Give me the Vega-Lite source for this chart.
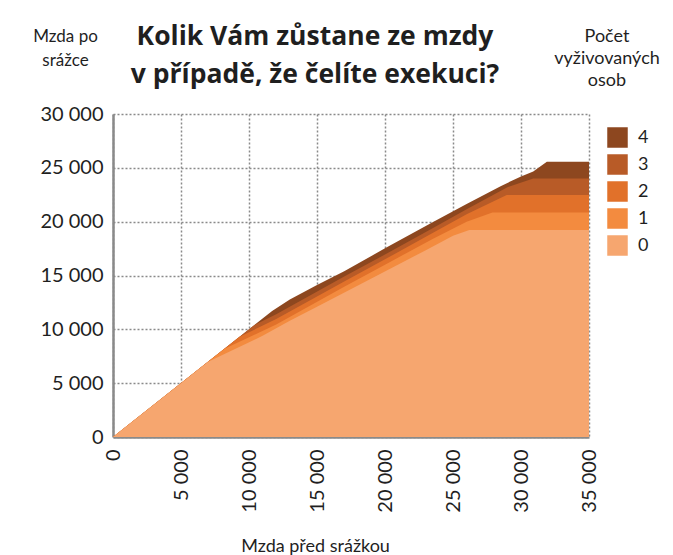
{
  "$schema": "https://vega.github.io/schema/vega-lite/v6.json",
  "autosize": {"type": "none"},
  "width": 476,
  "height": 323,
  "padding": {"left": 113, "top": 114, "right": 84, "bottom": 118},
  "background": "white",
  "title": {
    "text": ["Kolik Vám zůstane ze mzdy", "v případě, že čelíte exekuci?"],
    "anchor": "middle",
    "dx": -36,
    "fontSize": 26.5,
    "font": "Open Sans",
    "fontWeight": "bold",
    "color": "#1f1f1f",
    "lineHeight": 38,
    "offset": -61
  },
  "data": {
    "values": [
      {"k": "4", "x": 0, "y": 0}, {"k": "4", "x": 11700, "y": 11700}, {"k": "4", "x": 13000, "y": 12780}, {"k": "4", "x": 15000, "y": 14110}, {"k": "4", "x": 17000, "y": 15400}, {"k": "4", "x": 20000, "y": 17520}, {"k": "4", "x": 23500, "y": 19950}, {"k": "4", "x": 26000, "y": 21650}, {"k": "4", "x": 28500, "y": 23300}, {"k": "4", "x": 30000, "y": 24200}, {"k": "4", "x": 30900, "y": 24650}, {"k": "4", "x": 31900, "y": 25560}, {"k": "4", "x": 35000, "y": 25560},
      {"k": "3", "x": 0, "y": 0}, {"k": "3", "x": 10400, "y": 10400}, {"k": "3", "x": 12000, "y": 11400}, {"k": "3", "x": 17000, "y": 14900}, {"k": "3", "x": 20000, "y": 16950}, {"k": "3", "x": 23500, "y": 19400}, {"k": "3", "x": 26000, "y": 21150}, {"k": "3", "x": 29000, "y": 23200}, {"k": "3", "x": 30900, "y": 24020}, {"k": "3", "x": 35000, "y": 24020},
      {"k": "2", "x": 0, "y": 0}, {"k": "2", "x": 9300, "y": 9300}, {"k": "2", "x": 12000, "y": 10950}, {"k": "2", "x": 17000, "y": 14450}, {"k": "2", "x": 20000, "y": 16500}, {"k": "2", "x": 23500, "y": 18950}, {"k": "2", "x": 26000, "y": 20700}, {"k": "2", "x": 28950, "y": 22470}, {"k": "2", "x": 35000, "y": 22470},
      {"k": "1", "x": 0, "y": 0}, {"k": "1", "x": 8200, "y": 8200}, {"k": "1", "x": 12000, "y": 10450}, {"k": "1", "x": 17000, "y": 13950}, {"k": "1", "x": 20000, "y": 16000}, {"k": "1", "x": 23500, "y": 18400}, {"k": "1", "x": 26000, "y": 20000}, {"k": "1", "x": 27900, "y": 20860}, {"k": "1", "x": 35000, "y": 20860},
      {"k": "0", "x": 0, "y": 0}, {"k": "0", "x": 7000, "y": 7000}, {"k": "0", "x": 11000, "y": 9400}, {"k": "0", "x": 13000, "y": 10800}, {"k": "0", "x": 15000, "y": 12100}, {"k": "0", "x": 19000, "y": 14720}, {"k": "0", "x": 23000, "y": 17350}, {"k": "0", "x": 25000, "y": 18700}, {"k": "0", "x": 26200, "y": 19220}, {"k": "0", "x": 35000, "y": 19220}
    ]
  },
  "encoding": {
    "x": {
      "field": "x", "type": "quantitative",
      "scale": {"domain": [0, 35000], "nice": false, "zero": true},
      "axis": {
        "values": [0, 5000, 10000, 15000, 20000, 25000, 30000, 35000],
        "format": ",d",
        "labelAngle": -90,
        "labelFontSize": 20,
        "labelPadding": 12,
        "title": "Mzda před srážkou",
        "titleFontSize": 18,
        "titleFontWeight": "normal",
        "titleX": 202,
        "titleY": 114,
        "titleBaseline": "alphabetic",
        "titleAnchor": null
      }
    },
    "y": {
      "field": "y", "type": "quantitative", "stack": null,
      "scale": {"domain": [0, 30000], "nice": false},
      "axis": {
        "values": [0, 5000, 10000, 15000, 20000, 25000, 30000],
        "format": ",d",
        "labelFontSize": 20,
        "labelPadding": 10,
        "title": ["Mzda po", "srážce"],
        "titleAngle": 0,
        "titleAlign": "center",
        "titleBaseline": "top",
        "titleX": -48,
        "titleY": -86,
        "titleFontSize": 17,
        "titleFontWeight": "normal",
        "titleLineHeight": 24
      }
    },
    "color": {
      "field": "k", "type": "nominal",
      "scale": {"domain": ["4", "3", "2", "1", "0"], "range": ["#8D471F", "#B85B27", "#E1712A", "#F38B3F", "#F6A66F"]},
      "legend": {
        "title": ["Počet", "vyživovaných", "osob"],
        "orient": "none",
        "legendX": 441,
        "legendY": -86
      }
    }
  },
  "layer": [
    {"transform": [{"filter": "datum.k === '4'"}], "mark": {"type": "area", "opacity": 1}},
    {"transform": [{"filter": "datum.k === '3'"}], "mark": {"type": "area", "opacity": 1}},
    {"transform": [{"filter": "datum.k === '2'"}], "mark": {"type": "area", "opacity": 1}},
    {"transform": [{"filter": "datum.k === '1'"}], "mark": {"type": "area", "opacity": 1}},
    {"transform": [{"filter": "datum.k === '0'"}], "mark": {"type": "area", "opacity": 1}}
  ],
  "config": {
    "locale": {"number": {"decimal": ",", "thousands": " ", "grouping": [3], "currency": ["", " Kč"]}},
    "font": "Lato",
    "view": {"stroke": null},
    "axis": {
      "grid": true,
      "gridColor": "#8a8a8a",
      "gridDash": [2, 2],
      "gridWidth": 1.5,
      "gridOpacity": 1,
      "domainColor": "#8a8a8a",
      "domainWidth": 2.5,
      "ticks": false,
      "labelColor": "#1f1f1f",
      "titleColor": "#1f1f1f",
      "labelFont": "Lato",
      "titleFont": "Lato"
    },
    "legend": {
      "symbolType": "square",
      "symbolSize": 420,
      "symbolStrokeWidth": 0,
      "symbolOpacity": 1,
      "labelFontSize": 18,
      "labelColor": "#1f1f1f",
      "labelOffset": 10,
      "rowPadding": 6,
      "titleFontSize": 18,
      "titleFontWeight": "normal",
      "titleColor": "#1f1f1f",
      "titleLineHeight": 22,
      "titleAnchor": "start",
      "titleAlign": "center",
      "titlePadding": 37,
      "titleLimit": 200
    }
  }
}
